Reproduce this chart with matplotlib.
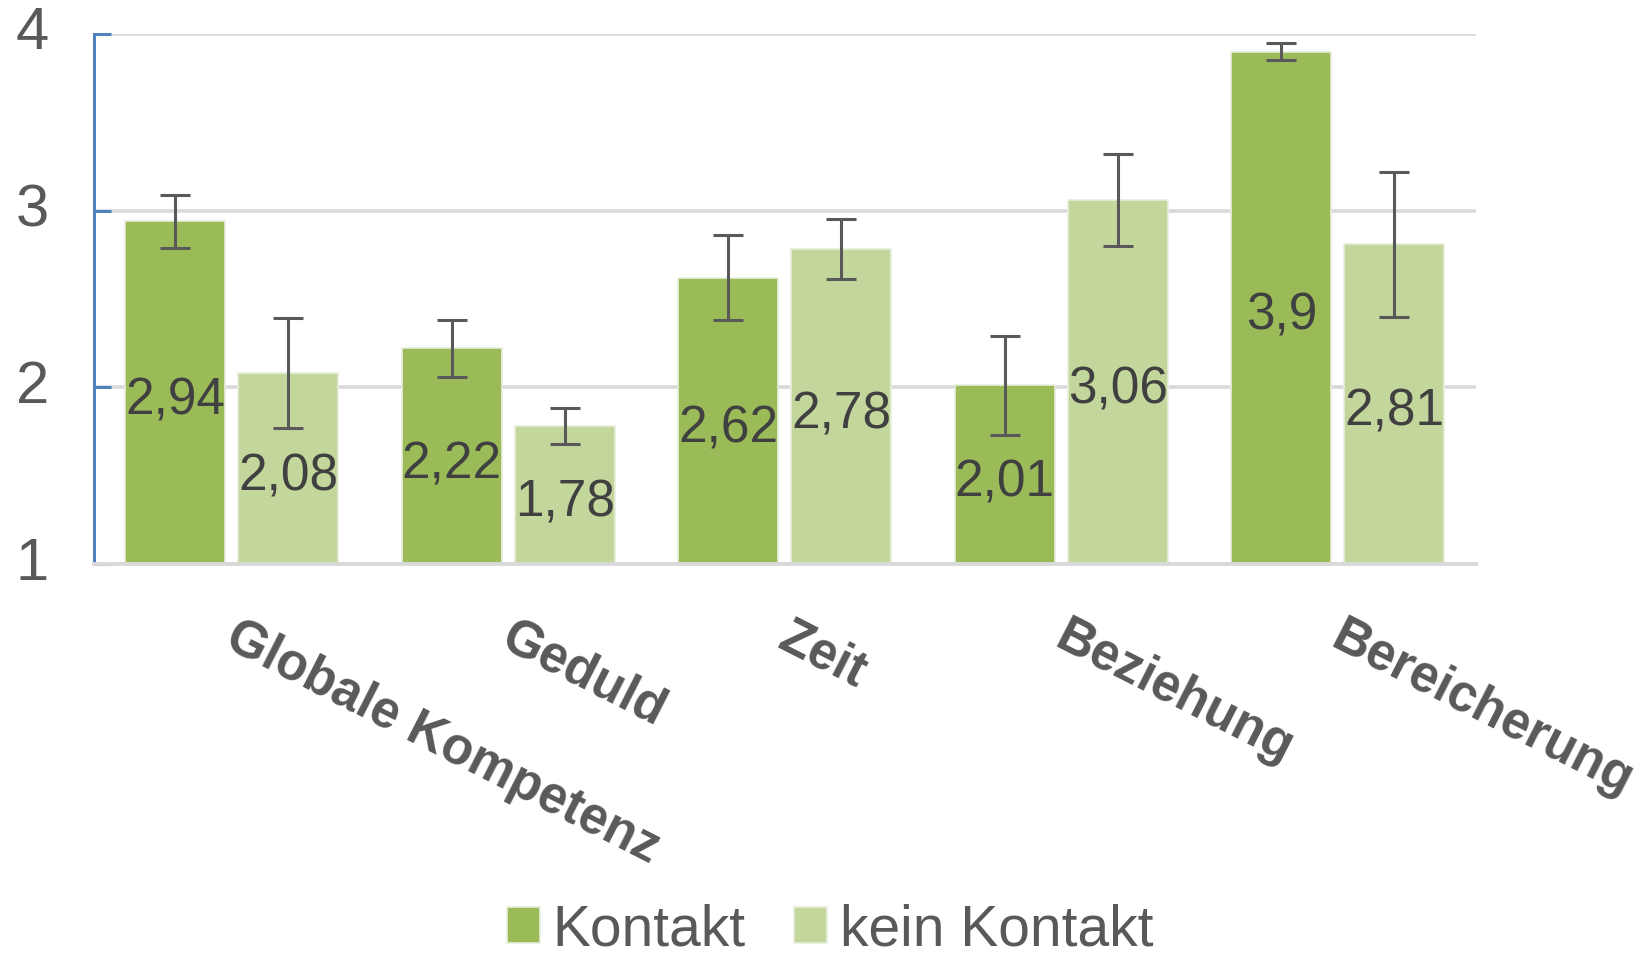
import matplotlib
matplotlib.use("Agg")
import matplotlib.pyplot as plt
from matplotlib.transforms import offset_copy, ScaledTranslation
import numpy as np

# Werte
categories = ["Globale Kompetenz", "Geduld", "Zeit", "Beziehung", "Bereicherung"]
kontakt = [2.94, 2.22, 2.62, 2.01, 3.9]
kein_kontakt = [2.08, 1.78, 2.78, 3.06, 2.81]
kontakt_err = [0.15, 0.16, 0.24, 0.28, 0.05]
kein_kontakt_err = [0.31, 0.10, 0.17, 0.26, 0.41]
series_names = ["Kontakt", "kein Kontakt"]
y_ticks = [1, 2, 3, 4]

dark_green = "#9bbb59"
light_green = "#c3d69b"
grey_text = "#595959"

plt.rcParams["font.family"] = ["Liberation Sans", "DejaVu Sans"]

fig = plt.figure(figsize=(16.44, 9.541), dpi=100)
ax = fig.add_axes([0.0569, 0.4088, 0.8409, 0.5556])

x = np.arange(len(categories))
offset = 0.204
width = 0.362
# Datenbeschriftungen etwas unter die Balkenmitte
label_trans = offset_copy(ax.transData, fig=fig, x=0, y=-6, units="points")

for vals, errs, col, dx, name in [
    (kontakt, kontakt_err, dark_green, -offset, series_names[0]),
    (kein_kontakt, kein_kontakt_err, light_green, offset, series_names[1]),
]:
    vals = np.array(vals)
    ax.bar(x + dx, vals - 1, bottom=1, width=width, color=col,
           edgecolor="#e9eedd", linewidth=1.2, zorder=2, label=name)
    ax.errorbar(x + dx, vals, yerr=errs, fmt="none", ecolor="#595959",
                elinewidth=2.2, capsize=10.8, capthick=2.2, zorder=4)
    for xi, v in zip(x + dx, vals):
        ax.text(xi, (1 + v) / 2, f"{v:g}".replace(".", ","), ha="center",
                va="center", fontsize=37, color="#404040", zorder=5,
                transform=label_trans)

ax.set_xlim(-0.5, len(categories) - 0.5)
ax.set_ylim(1, 4)
ax.set_yticks(y_ticks)
ax.set_yticklabels([str(t) for t in y_ticks], fontsize=43, color=grey_text,
                   va="center")
ax.tick_params(axis="y", direction="in", length=12, width=2.2,
               color="#4f81bd", pad=32)

ax.set_xticks(x)
ax.set_xticklabels(categories, rotation=-27, ha="left", va="top",
                   rotation_mode="anchor", fontsize=37, fontweight="bold",
                   color=grey_text)
ax.tick_params(axis="x", length=0, pad=35)
shift = ScaledTranslation(6 / 72, 0, fig.dpi_scale_trans)
for t in ax.xaxis.get_major_ticks():
    t.label1.set_transform(t.label1.get_transform() + shift)

ax.grid(axis="y", color="#d9d9d9", linewidth=2.6, zorder=0)
ax.set_axisbelow(True)
for s in ["top", "right"]:
    ax.spines[s].set_visible(False)
ax.spines["left"].set_color("#4f81bd")
ax.spines["left"].set_linewidth(2.2)
ax.spines["left"].set_zorder(3)
ax.spines["bottom"].set_color("#d9d9d9")
ax.spines["bottom"].set_linewidth(2.8)
ax.spines["bottom"].set_zorder(3)

fig.legend(loc="center", bbox_to_anchor=(0.505, 0.025), ncol=2,
           frameon=False, fontsize=41, labelcolor=grey_text,
           handlelength=0.58, handleheight=0.6, handletextpad=0.23,
           columnspacing=0.85, borderpad=0)

fig.savefig("out.png", dpi=100)
